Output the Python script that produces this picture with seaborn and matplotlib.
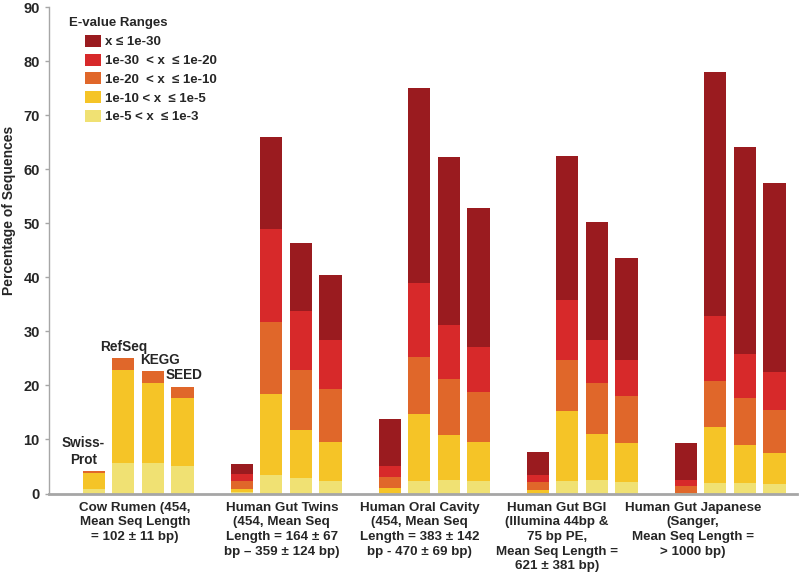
#!/usr/bin/env python3

"""
Stacked bars of E-value ranges per metagenome / database
"""

import pandas as pd
import seaborn as sns
import matplotlib.pyplot as plt
from matplotlib.patches import Patch

groups = ["Cow Rumen", "Human Gut Twins", "Human Oral Cavity", "Human Gut BGI", "Human Gut Japanese"]
group_labels = [
    "Cow Rumen (454,\nMean Seq Length\n= 102 ± 11 bp)",
    "Human Gut Twins\n(454, Mean Seq\nLength = 164 ± 67\nbp – 359 ± 124 bp)",
    "Human Oral Cavity\n(454, Mean Seq\nLength = 383 ± 142\nbp - 470 ± 69 bp)",
    "Human Gut BGI\n(Illumina 44bp &\n75 bp PE,\nMean Seq Length =\n621 ± 381 bp)",
    "Human Gut Japanese\n(Sanger,\nMean Seq Length =\n> 1000 bp)",
]
databases = ["Swiss-Prot", "RefSeq", "KEGG", "SEED"]

# E-value ranges, bottom of stack first
ranges = ["1e-5 < x  ≤ 1e-3", "1e-10 < x  ≤ 1e-5", "1e-20  < x  ≤ 1e-10",
          "1e-30  < x  ≤ 1e-20", "x ≤ 1e-30"]
colors = ["#F0E173", "#F5C427", "#E0672A", "#D7292A", "#9A1B1F"]

# values (% of sequences), order: group by group, Swiss-Prot / RefSeq / KEGG / SEED
e_1e3 = [0.8, 5.6, 5.7, 5.1, 0.2, 3.4, 2.9, 2.3, 0.1, 2.3, 2.5, 2.3,
         0.0, 2.3, 2.5, 2.2, 0.0, 1.9, 2.0, 1.7]
e_1e5 = [3.05, 17.3, 14.8, 12.5, 0.6, 15.0, 8.8, 7.3, 1.0, 12.5, 8.4, 7.2,
         0.65, 12.9, 8.6, 7.2, 0.15, 10.5, 7.0, 5.8]
e_1e10 = [0.3, 2.1, 2.2, 2.2, 1.5, 13.3, 11.2, 9.8, 2.0, 10.4, 10.3, 9.3,
          1.55, 9.6, 9.4, 8.7, 1.3, 8.5, 8.6, 8.0]
e_1e20 = [0.05, 0.0, 0.0, 0.0, 1.4, 17.2, 10.8, 9.0, 2.0, 13.7, 9.9, 8.4,
          1.2, 11.1, 7.9, 6.7, 1.05, 11.9, 8.2, 7.0]
e_1e30 = [0.0, 0.0, 0.0, 0.0, 1.8, 17.1, 12.6, 12.0, 8.6, 36.1, 31.1, 25.7,
          4.2, 26.6, 21.8, 18.8, 6.9, 45.3, 38.3, 34.9]

# build table
slots = [g + "|" + d for g in groups for d in databases]
data = pd.DataFrame({"slot": slots})
for name, vals in zip(ranges, [e_1e3, e_1e5, e_1e10, e_1e20, e_1e30]):
    data[name] = vals
cum = data[ranges].cumsum(axis=1)
cum["slot"] = data["slot"]

# empty slot between groups
order = []
for i, g in enumerate(groups):
    order += [g + "|" + d for d in databases]
    if i < len(groups) - 1:
        order.append("gap%d" % i)

sns.set_style("white")
plt.rcParams['font.family'] = ['Liberation Sans', 'DejaVu Sans']
plt.rcParams['font.weight'] = 'bold'

fig = plt.figure(figsize=(8, 5.83), dpi=100)
ax = fig.add_axes([0.061, 0.1535, 0.935, 0.834])

# draw from the top of the stack down, overlapping
for name, c in reversed(list(zip(ranges, colors))):
    sns.barplot(data=cum, x="slot", y=name, order=order, color=c, saturation=1,
                width=0.75, errorbar=None, linewidth=0, edgecolor="none", ax=ax)

ax.set_ylim(0, 90)
ax.set_xlim(-1.52, 23.75)
ax.set_yticks(range(0, 91, 10))
ax.set_xlabel("")
ax.set_ylabel("Percentage of Sequences", fontsize=10, fontweight="bold")
ax.yaxis.set_label_coords(-0.044, 0.583)

# group labels sit a little left of the bar groups
label_pos = [1.4, 6.35, 11.0, 15.65, 20.25]
ax.set_xticks(label_pos, group_labels, fontsize=9.6, fontweight="bold", linespacing=1.29)
ax.tick_params(axis="x", length=0, pad=6)
ax.tick_params(axis="y", direction="out", length=3, width=1, color="#A6A6A6",
               pad=3.5, labelsize=10.5, left=True)

sns.despine(ax=ax)
ax.spines["left"].set_color("#A6A6A6")
ax.spines["left"].set_linewidth(1)
ax.spines["bottom"].set_color("#A6A6A6")
ax.spines["bottom"].set_linewidth(2)

# database names above the cow rumen bars
tops = cum.set_index("slot")[ranges[-1]]
for d, dx in zip(databases, [-0.35, 0.0, 0.25, 0.05]):
    slot = groups[0] + "|" + d
    txt = "Swiss-\nProt" if d == "Swiss-Prot" else d
    ax.annotate(txt, (order.index(slot) + dx, tops[slot]), xytext=(0, 3),
                textcoords="offset points", ha="center", va="bottom",
                fontsize=9.8, fontweight="bold", linespacing=1.2)

# legend
ax.text(0.027, 0.968, "E-value Ranges", transform=ax.transAxes, ha="left", va="center",
        fontsize=9.5, fontweight="bold")
handles = [Patch(facecolor=c, edgecolor="none") for c in reversed(colors)]
ax.legend(handles, list(reversed(ranges)), loc="upper left", bbox_to_anchor=(0.048, 0.943),
          frameon=False, prop={"size": 9.5, "weight": "bold"}, handlelength=1.2,
          handleheight=1.0, handletextpad=0.35, labelspacing=0.4, borderpad=0,
          borderaxespad=0)

plt.savefig("out.png", dpi=100)
